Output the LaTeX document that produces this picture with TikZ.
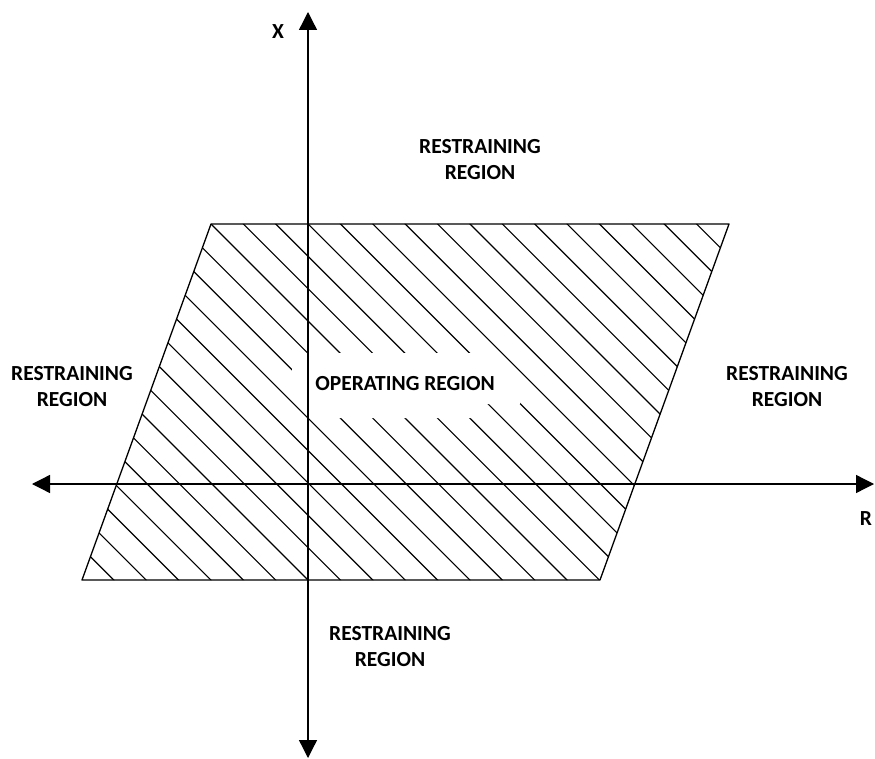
\documentclass[tikz,border=0pt]{standalone}
\usepackage{fontspec}
\setmainfont{Carlito}
\usetikzlibrary{arrows.meta}
\tikzset{
  axis/.style={line width=1.3pt, {Triangle[length=18pt,width=18pt]}-{Triangle[length=18pt,width=18pt]}},
  hatch/.style={line width=1.1pt},
  region/.style={align=center, font=\fontsize{21.5}{26}\selectfont\bfseries, inner sep=0pt}
}
\begin{document}
\begin{tikzpicture}[x=1pt, y=-1pt, line join=round]
	\useasboundingbox (0,0) rectangle (875,759);
	\coordinate (A) at (211,224);
	\coordinate (B) at (729,224);
	\coordinate (C) at (600,580);
	\coordinate (D) at (82,580);
	\begin{scope}
		\clip (A)--(B)--(C)--(D)--cycle;
		\foreach \k in {-15,...,14} \draw[hatch] (0,{13+32.375*\k}) -- (875,{888+32.375*\k});
	\end{scope}
	\fill[white] (292,353)--(498,353)--(520,375)--(520,404)--(487,404)--(472,418)--(313,418)--(292,395)--cycle;
	\draw[line width=1.3pt] (A)--(B)--(C)--(D)--cycle;
	\coordinate (xtop) at (308,12);
	\coordinate (xbot) at (308,758);
	\coordinate (rleft) at (32,484);
	\coordinate (rright) at (874,484);
	\draw[axis] (xbot) -- (xtop);
	\draw[axis] (rleft) -- (rright);
	\node[region] (xlab) at (278,32) {X};
	\node[region] (rlab) at (866,519) {R};
	\node[region] (op) at (405,384) {OPERATING REGION};
	\node[region] (rtop) at (480,160) {RESTRAINING\\REGION};
	\node[region] (rleftlab) at (72,387) {RESTRAINING\\REGION};
	\node[region] (rrightlab) at (787,387) {RESTRAINING\\REGION};
	\node[region] (rbot) at (390,647) {RESTRAINING\\REGION};
\end{tikzpicture}
\end{document}
